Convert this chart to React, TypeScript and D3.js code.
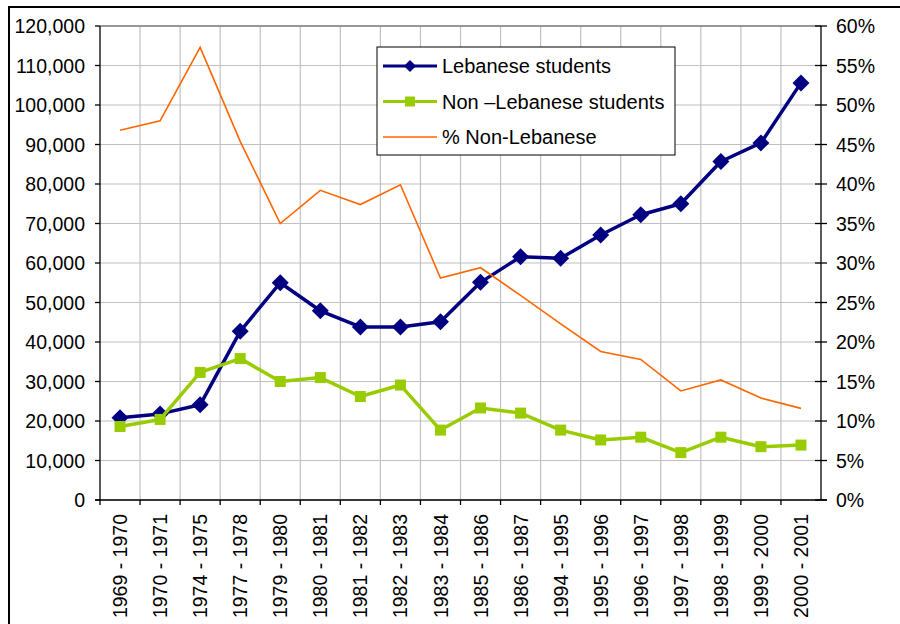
import React from "react";
import * as d3 from "d3";

// Academic years (x categories)
const years = [
  "1969 - 1970", "1970 - 1971", "1974 - 1975", "1977 - 1978", "1979 - 1980",
  "1980 - 1981", "1981 - 1982", "1982 - 1983", "1983 - 1984", "1985 - 1986",
  "1986 - 1987", "1994 - 1995", "1995 - 1996", "1996 - 1997", "1997 - 1998",
  "1998 - 1999", "1999 - 2000", "2000 - 2001",
];

// Student counts
const lebanese = [
  20800, 21800, 24100, 42700, 55000, 47900, 43800, 43800, 45100, 55100,
  61600, 61200, 67100, 72200, 75000, 85700, 90400, 105600,
];
const nonLebanese = [
  18600, 20400, 32300, 35800, 30000, 31000, 26200, 29100, 17700, 23300,
  22000, 17700, 15200, 15900, 12000, 15900, 13500, 13900,
];
// share of non-Lebanese, in percent (right axis)
const pctNonLebanese = [
  46.8, 48.0, 57.3, 45.4, 35.0, 39.2, 37.4, 39.9, 28.1, 29.4,
  25.9, 22.3, 18.8, 17.8, 13.8, 15.2, 12.9, 11.6,
];

const leftTicks = d3.range(0, 120001, 10000);
const rightTicks = d3.range(0, 61, 5);

const W = 900;
const H = 624;
const plot = { left: 100, right: 821, top: 26, bottom: 500 };

const NAVY = "#000080";
const GREEN = "#99CC00";
const ORANGE = "#FF6600";
const FONT = "'Liberation Sans', Arial, sans-serif";

const diamond = (cx: number, cy: number, r: number) =>
  `M${cx},${cy - r}L${cx + r},${cy}L${cx},${cy + r}L${cx - r},${cy}Z`;

export default function App() {
  const x = d3.scaleBand<string>().domain(years).range([plot.left, plot.right]).padding(0);
  const yL = d3.scaleLinear().domain([0, 120000]).range([plot.bottom, plot.top]);
  const yR = d3.scaleLinear().domain([0, 60]).range([plot.bottom, plot.top]);
  const cx = (i: number) => (x(years[i]) as number) + x.bandwidth() / 2;

  const lineL = d3.line<number>().x((_, i) => cx(i)).y((d) => yL(d));
  const lineR = d3.line<number>().x((_, i) => cx(i)).y((d) => yR(d));

  const fmt = d3.format(",");

  // legend geometry
  const lg = { x: 377, y: 47, w: 298, h: 108 };
  const legendRows = [
    { label: "Lebanese students", color: NAVY, width: 3, marker: "diamond" },
    { label: "Non \u2013Lebanese students", color: GREEN, width: 3, marker: "square" },
    { label: "% Non-Lebanese", color: ORANGE, width: 1.5, marker: "none" },
  ];

  return (
    <svg
      width={W}
      height={H}
      viewBox={`0 0 ${W} ${H}`}
      style={{ position: "absolute", left: 0, top: 0, background: "#fff" }}
      fontFamily={FONT}
    >
      {/* outer frame */}
      <rect x={9} y={7} width={W + 20} height={H + 20} fill="#fff" stroke="#000" strokeWidth={2} />

      {/* gridlines */}
      <g stroke="#c0c0c0" strokeWidth={1.2}>
        {leftTicks.map((t) => (
          <line key={"h" + t} x1={plot.left} x2={plot.right} y1={yL(t)} y2={yL(t)} />
        ))}
        {years.slice(1).map((yr) => (
          <line key={"v" + yr} x1={x(yr)} x2={x(yr)} y1={plot.top} y2={plot.bottom} />
        ))}
      </g>
      <line x1={plot.left} x2={plot.right} y1={plot.top} y2={plot.top} stroke="#808080" strokeWidth={1.5} />

      {/* left axis */}
      <g>
        <line x1={plot.left} x2={plot.left} y1={plot.top} y2={plot.bottom} stroke="#000" strokeWidth={1.3} />
        {leftTicks.map((t) => (
          <g key={"l" + t}>
            <line x1={plot.left - 5} x2={plot.left} y1={yL(t)} y2={yL(t)} stroke="#000" strokeWidth={1.3} />
            <text x={85} y={yL(t)} dy="0.36em" textAnchor="end" fontSize={19.5} fill="#000">
              {fmt(t)}
            </text>
          </g>
        ))}
      </g>

      {/* right axis */}
      <g>
        <line x1={plot.right} x2={plot.right} y1={plot.top} y2={plot.bottom} stroke="#000" strokeWidth={1.3} />
        {rightTicks.map((t) => (
          <g key={"r" + t}>
            <line x1={plot.right - 6} x2={plot.right + 6} y1={yR(t)} y2={yR(t)} stroke="#000" strokeWidth={1.3} />
            <text x={836} y={yR(t)} dy="0.36em" textAnchor="start" fontSize={19.5} fill="#000">
              {t + "%"}
            </text>
          </g>
        ))}
      </g>

      {/* bottom axis */}
      <g>
        <line x1={plot.left - 5} x2={plot.right + 6} y1={plot.bottom} y2={plot.bottom} stroke="#000" strokeWidth={1.3} />
        {years.map((yr) => (
          <line key={"t" + yr} x1={x(yr)} x2={x(yr)} y1={plot.bottom} y2={plot.bottom + 5} stroke="#000" strokeWidth={1.3} />
        ))}
        {years.map((yr, i) => (
          <text
            key={"xl" + yr}
            transform={`translate(${cx(i)},514) rotate(-90)`}
            textAnchor="end"
            dy="0.36em"
            fontSize={19.5}
            fill="#000"
          >
            {yr}
          </text>
        ))}
      </g>

      {/* Lebanese students */}
      <path d={lineL(lebanese) ?? ""} fill="none" stroke={NAVY} strokeWidth={3.5} strokeLinejoin="round" />
      {lebanese.map((v, i) => (
        <path key={"d" + i} d={diamond(cx(i), yL(v), 8.5)} fill={NAVY} />
      ))}

      {/* Non-Lebanese students */}
      <path d={lineL(nonLebanese) ?? ""} fill="none" stroke={GREEN} strokeWidth={3.5} strokeLinejoin="round" />
      {nonLebanese.map((v, i) => (
        <rect key={"s" + i} x={cx(i) - 5.5} y={yL(v) - 5.5} width={11} height={11} fill={GREEN} />
      ))}

      {/* % Non-Lebanese */}
      <path d={lineR(pctNonLebanese) ?? ""} fill="none" stroke={ORANGE} strokeWidth={1.6} />

      {/* legend */}
      <g>
        <rect x={lg.x} y={lg.y} width={lg.w} height={lg.h} fill="#fff" stroke="#000" strokeWidth={1} />
        {legendRows.map((r, i) => {
          const ry = 66 + i * 35.5;
          return (
            <g key={r.label}>
              <line x1={383} x2={437} y1={ry} y2={ry} stroke={r.color} strokeWidth={r.width} />
              {r.marker === "diamond" && <path d={diamond(410, ry, 6)} fill={r.color} />}
              {r.marker === "square" && <rect x={405} y={ry - 5} width={10} height={10} fill={r.color} />}
              <text x={442} y={ry} dy="0.36em" fontSize={20} fill="#000">
                {r.label}
              </text>
            </g>
          );
        })}
      </g>
    </svg>
  );
}
